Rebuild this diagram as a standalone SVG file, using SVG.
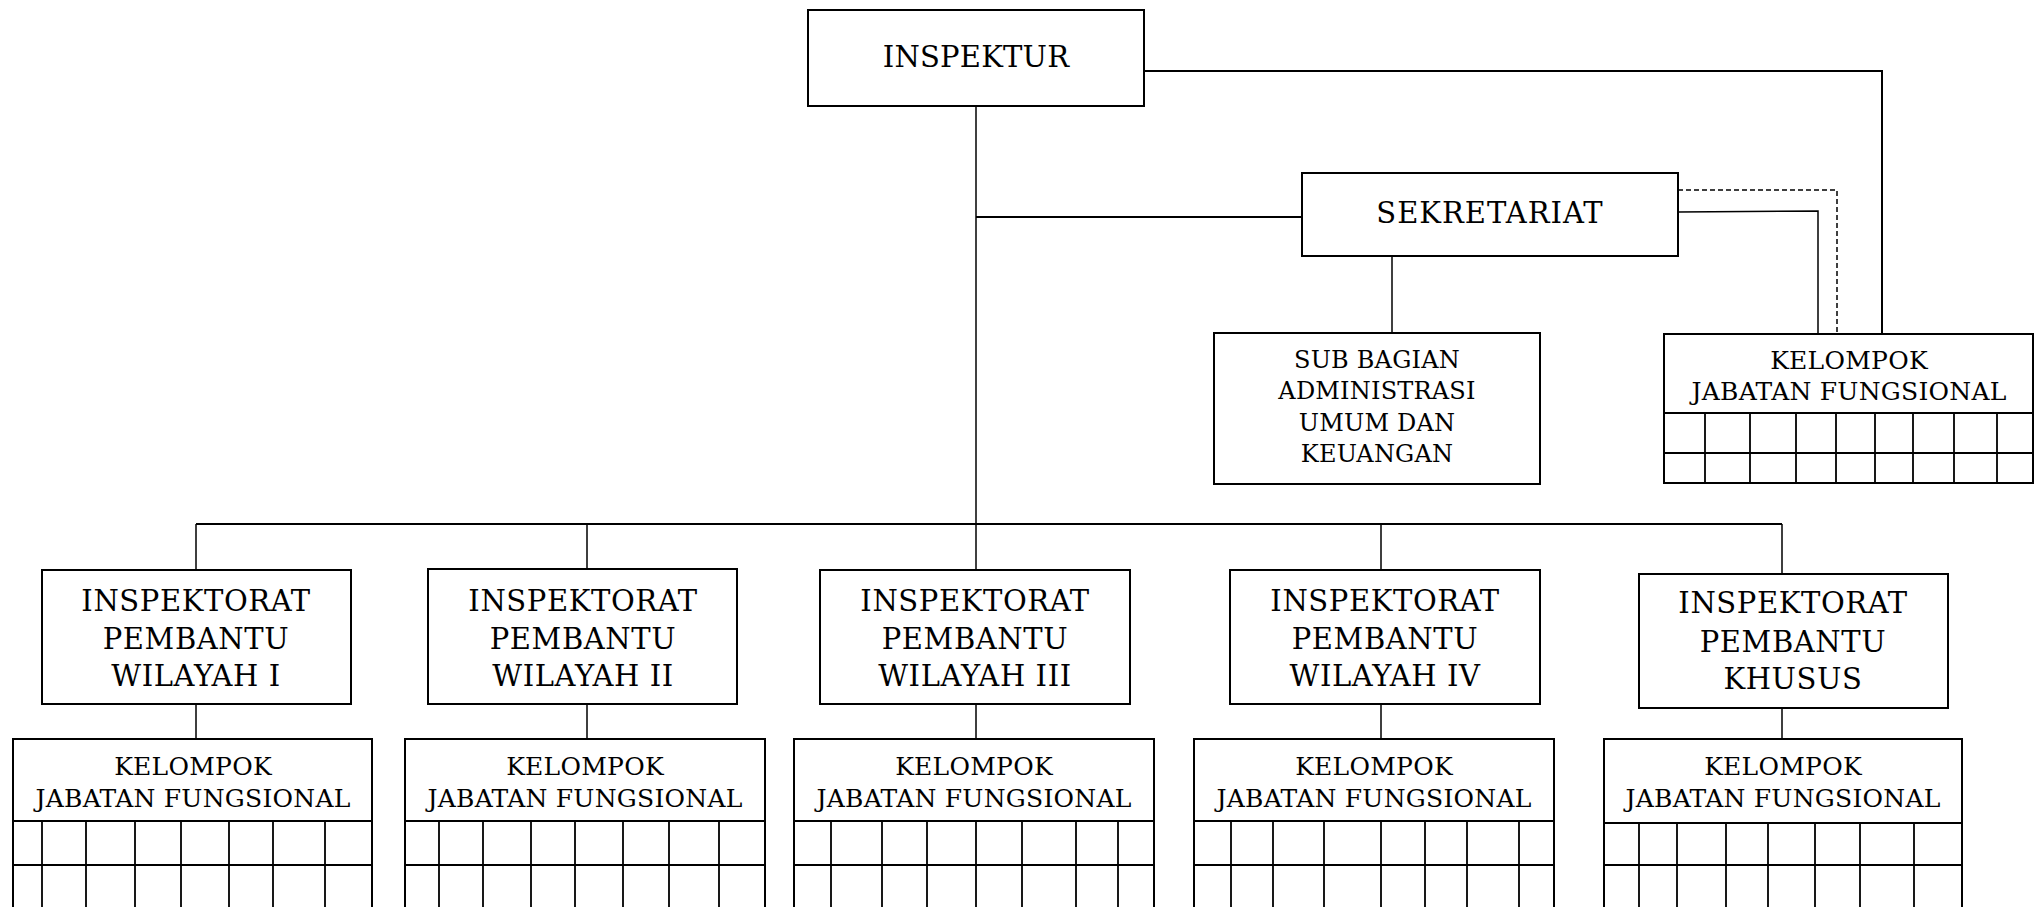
<svg xmlns="http://www.w3.org/2000/svg" width="2034" height="907" viewBox="0 0 2034 907">
<style>
.box{fill:#fff;stroke:#000;stroke-width:2}
.grid{fill:none;stroke:#000;stroke-width:1.8}
.conn{fill:none;stroke:#000;stroke-width:1.5}
.bar{fill:none;stroke:#000;stroke-width:2}
.dash{fill:none;stroke:#000;stroke-width:1.5;stroke-dasharray:5 3}
.t29{font-family:"DejaVu Serif","Liberation Serif",serif;font-size:29px;letter-spacing:0.6px;text-anchor:middle;fill:#000}
.t25{font-family:"DejaVu Serif","Liberation Serif",serif;font-size:25px;letter-spacing:0.25px;text-anchor:middle;fill:#000}
.t24{font-family:"DejaVu Serif","Liberation Serif",serif;font-size:24px;letter-spacing:0.2px;text-anchor:middle;fill:#000}
.wide{letter-spacing:1px}
.narrow{letter-spacing:0.2px}
</style>
<rect width="2034" height="907" fill="#fff"/>
<g id="connectors">
<path class="conn" d="M976 106V570"/>
<path class="bar" d="M1144 71H1882V334"/>
<path class="bar" d="M976 217H1302"/>
<path class="conn" d="M1678 212L1818 211V334"/>
<path class="dash" d="M1678 190H1837V332"/>
<path class="conn" d="M1392 256V333"/>
<path class="bar" d="M196 524H1782"/>
<path class="conn" d="M196 524V570M587 524V569M1381 524V570M1782 524V574"/>
<path class="conn" d="M196 704V739M587 704V739M976 704V739M1381 704V739M1782 708V739"/>
</g>
<g id="inspektur">
<rect class="box" x="808" y="10" width="336" height="96"/>
<text class="t29 narrow" x="976" y="67">INSPEKTUR</text>
</g>
<g id="sekretariat">
<rect class="box" x="1302" y="173" width="376" height="83"/>
<text class="t29 wide" x="1490" y="223">SEKRETARIAT</text>
</g>
<g id="subbagian">
<rect class="box" x="1214" y="333" width="326" height="151"/>
<text class="t24" x="1377" y="368">SUB BAGIAN</text>
<text class="t24" x="1377" y="399">ADMINISTRASI</text>
<text class="t24" x="1377" y="431">UMUM DAN</text>
<text class="t24" x="1377" y="462">KEUANGAN</text>
</g>
<g id="kjf-sekretariat">
<rect class="box" x="1664" y="334" width="369" height="149"/>
<path class="grid" d="M1664 413H2033M1663 453H2033M1705 413V483M1750 413V483M1796 413V483M1836 413V483M1875 413V483M1913 413V483M1954 413V483M1997 413V483"/>
<text class="t25" x="1849" y="369">KELOMPOK</text>
<text class="t25" x="1849" y="400">JABATAN FUNGSIONAL</text>
</g>
<g id="irban1">
<rect class="box" x="42" y="570" width="309" height="134"/>
<text class="t29" x="196" y="611">INSPEKTORAT</text>
<text class="t29" x="196" y="649">PEMBANTU</text>
<text class="t29" x="196" y="686">WILAYAH I</text>
</g>
<g id="irban2">
<rect class="box" x="428" y="569" width="309" height="135"/>
<text class="t29" x="583" y="611">INSPEKTORAT</text>
<text class="t29" x="583" y="649">PEMBANTU</text>
<text class="t29" x="583" y="686">WILAYAH II</text>
</g>
<g id="irban3">
<rect class="box" x="820" y="570" width="310" height="134"/>
<text class="t29" x="975" y="611">INSPEKTORAT</text>
<text class="t29" x="975" y="649">PEMBANTU</text>
<text class="t29" x="975" y="686">WILAYAH III</text>
</g>
<g id="irban4">
<rect class="box" x="1230" y="570" width="310" height="134"/>
<text class="t29" x="1385" y="611">INSPEKTORAT</text>
<text class="t29" x="1385" y="649">PEMBANTU</text>
<text class="t29" x="1385" y="686">WILAYAH IV</text>
</g>
<g id="irban-khusus">
<rect class="box" x="1639" y="574" width="309" height="134"/>
<text class="t29" x="1793" y="613">INSPEKTORAT</text>
<text class="t29" x="1793" y="652">PEMBANTU</text>
<text class="t29" x="1793" y="689">KHUSUS</text>
</g>
<g id="kjf1">
<path class="box" d="M13 910V739H372V910"/>
<path class="grid" d="M13 821H372M13 865H372M42 821V907M86 821V907M135 821V907M181 821V907M229 821V907M273 821V907M325 821V907"/>
<text class="t25" x="193" y="775">KELOMPOK</text>
<text class="t25" x="193" y="807">JABATAN FUNGSIONAL</text>
</g>
<g id="kjf2">
<path class="box" d="M405 910V739H765V910"/>
<path class="grid" d="M405 821H765M405 865H765M439 821V907M483 821V907M531 821V907M575 821V907M623 821V907M669 821V907M719 821V907"/>
<text class="t25" x="585" y="775">KELOMPOK</text>
<text class="t25" x="585" y="807">JABATAN FUNGSIONAL</text>
</g>
<g id="kjf3">
<path class="box" d="M794 910V739H1154V910"/>
<path class="grid" d="M794 821H1154M794 865H1154M831 821V907M882 821V907M927 821V907M976 821V907M1022 821V907M1076 821V907M1118 821V907"/>
<text class="t25" x="974" y="775">KELOMPOK</text>
<text class="t25" x="974" y="807">JABATAN FUNGSIONAL</text>
</g>
<g id="kjf4">
<path class="box" d="M1194 910V739H1554V910"/>
<path class="grid" d="M1194 821H1554M1194 865H1554M1231 821V907M1273 821V907M1324 821V907M1381 821V907M1425 821V907M1467 821V907M1519 821V907"/>
<text class="t25" x="1374" y="775">KELOMPOK</text>
<text class="t25" x="1374" y="807">JABATAN FUNGSIONAL</text>
</g>
<g id="kjf-khusus">
<path class="box" d="M1604 910V739H1962V910"/>
<path class="grid" d="M1604 823H1962M1604 865H1962M1639 823V907M1677 823V907M1726 823V907M1768 823V907M1815 823V907M1860 823V907M1914 823V907"/>
<text class="t25" x="1783" y="775">KELOMPOK</text>
<text class="t25" x="1783" y="807">JABATAN FUNGSIONAL</text>
</g>
</svg>
